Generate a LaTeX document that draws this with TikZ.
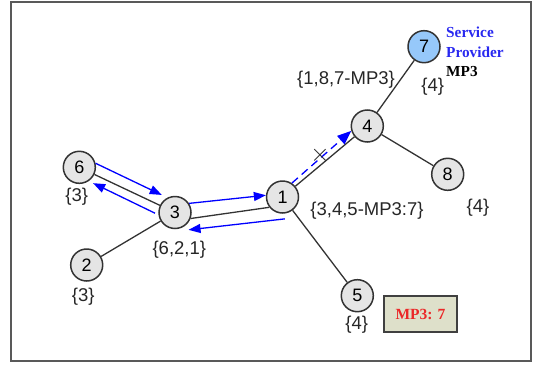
\documentclass[tikz,border=0pt]{standalone}
\usepackage{fontspec}
\setmainfont{Liberation Sans}
\newfontfamily\serifb{Liberation Serif}
\usetikzlibrary{arrows.meta,calc}
\definecolor{spblue}{RGB}{150,200,250}
\definecolor{boxfill}{RGB}{222,224,202}
\definecolor{txtblue}{RGB}{40,40,240}
\definecolor{mpred}{RGB}{235,40,40}
\begin{document}
\begin{tikzpicture}[x=1pt,y=1pt,
  nd/.style={circle,draw=black!80,line width=1.5pt,fill=black!10,minimum size=32pt,inner sep=0pt,font=\fontsize{18}{20}\selectfont},
  lbl/.style={font=\fontsize{18.5}{21}\selectfont,text=black!85,inner sep=0pt},
  link/.style={draw=black!80,line width=1.3pt},
  msg/.style={draw=blue,line width=1.3pt,-{Triangle[length=12pt,width=9pt]}},
]
\useasboundingbox (0,0) rectangle (534,-364);
\draw[black!65,line width=2.2pt] (11,-2) rectangle (531,-361);

\node[nd] (n1) at (282.5,-197) {1};
\node[nd] (n2) at (86.7,-265) {2};
\node[nd] (n3) at (175,-212.5) {3};
\node[nd] (n4) at (367.3,-126) {4};
\node[nd] (n5) at (357.3,-295.7) {5};
\node[nd] (n6) at (79.3,-167.3) {6};
\node[nd,fill=spblue] (n7) at (424,-46.7) {7};
\node[nd] (n8) at (447.7,-174.3) {8};

\draw[link] (n7) -- (n4);
\draw[link] (n4) -- (n8);
\draw[link] (n4) -- (n1);
\draw[link] (n1) -- (n5);
\draw[link] (n3) -- (n2);
\draw[link] (n6) -- (n3);
\draw[link] (n3.-21) -- (n1.218);

\draw[msg] (n6.14) -- ($(n3)+(127:22)$);
\draw[msg] ($(n3)+(182:20)$) -- ($(n6)+(-49:21)$);
\draw[msg] (n3.33) -- (n1.174);
\draw[msg] ($(n1)+(-84:22)$) -- ($(n3)+(-52:22)$);
\draw[msg,dash pattern=on 8pt off 5pt,-{Triangle[length=14pt,width=11pt]}] (n1.56) -- (n4.197);
\node[font=\fontsize{30}{30}\selectfont,inner sep=0pt,text=black!85] (xm) at (320,-155.5) {$\times$};

\node[lbl] (l6) at (76.7,-196.7) {\{3\}};
\node[lbl] (l2) at (83.3,-296.7) {\{3\}};
\node[lbl] (l3) at (179.3,-250) {\{6,2,1\}};
\node[lbl] (l1) at (367,-210.7) {\{3,4,5-MP3:7\}};
\node[lbl] (l5) at (356.7,-325) {\{4\}};
\node[lbl] (l8) at (478,-208) {\{4\}};
\node[lbl] (l4) at (346,-79.3) {\{1,8,7-MP3\}};
\node[lbl] (l7) at (432.7,-86.7) {\{4\}};

\node[anchor=west,align=left,inner sep=0pt,font=\serifb\bfseries\fontsize{15.3}{19.5}\selectfont] (sp) at (446,-52) {\textcolor{txtblue}{Service}\\\textcolor{txtblue}{Provider}\\MP3};

\node[draw=black!75,line width=1.8pt,fill=boxfill,minimum width=73pt,minimum height=36pt,inner sep=0pt,font=\serifb\bfseries\fontsize{15.5}{18}\selectfont,text=mpred] (mp) at (420.5,-314) {MP3: 7};
\end{tikzpicture}
\end{document}
